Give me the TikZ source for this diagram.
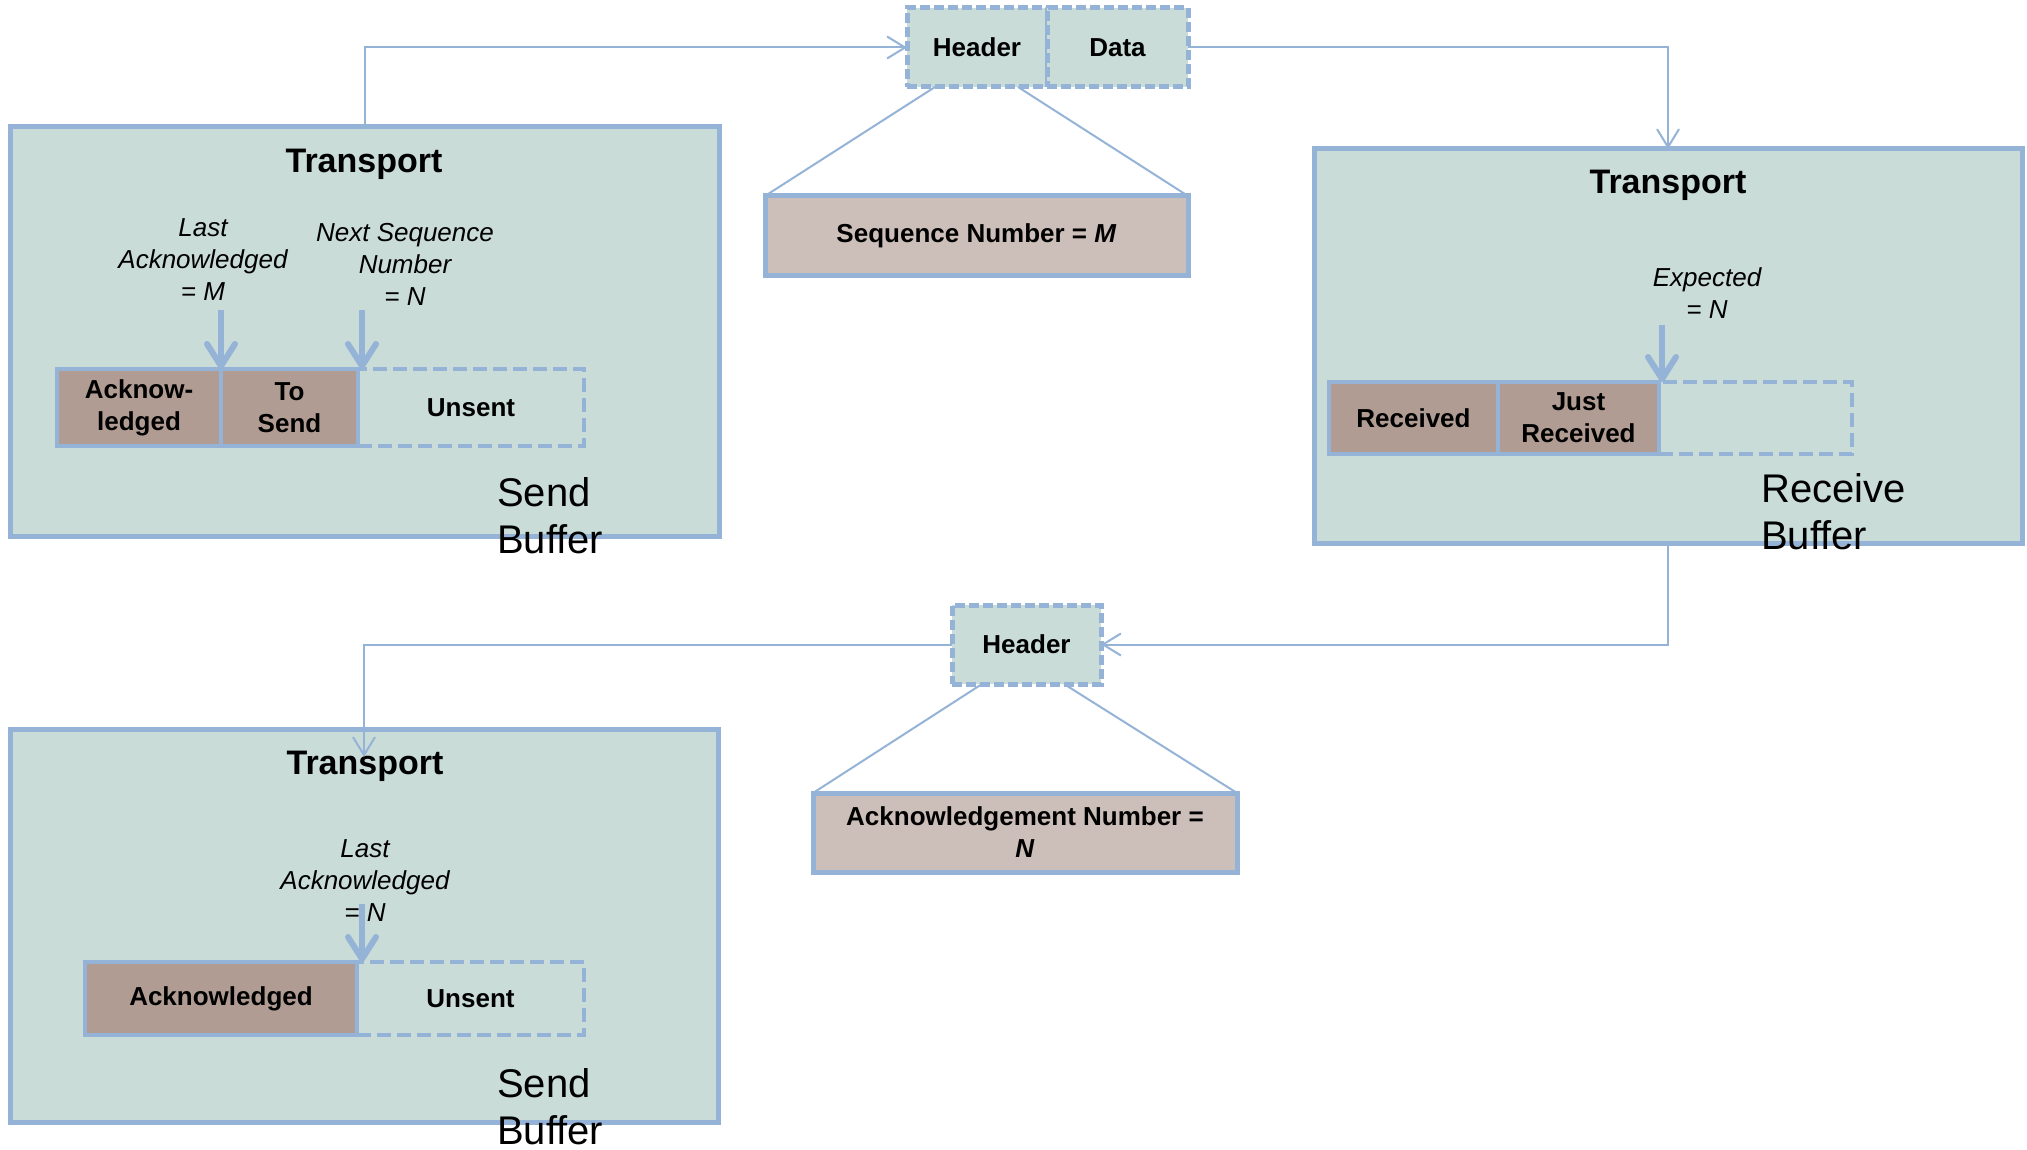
\documentclass[tikz,border=0pt]{standalone}
\usepackage{fontspec}
\setmainfont{Liberation Sans}
\usetikzlibrary{arrows.meta,calc}

\definecolor{panel}{HTML}{C9DCD7}
\definecolor{edge}{HTML}{95B3D7}
\definecolor{cellbrown}{HTML}{B09C92}
\definecolor{fieldrose}{HTML}{CCBEB9}

\newcommand\cellfont{\fontsize{26pt}{32pt}\selectfont\bfseries}
\newcommand\titlefont{\fontsize{34pt}{40pt}\selectfont\bfseries}
\newcommand\pointerfont{\fontsize{26pt}{32pt}\selectfont\itshape}
\newcommand\buffont{\fontsize{40pt}{47pt}\selectfont}

\tikzset{
  panelbox/.style={rectangle, draw=edge, fill=panel, line width=5pt, inner sep=0pt, outer sep=0pt},
  cell/.style={rectangle, draw=edge, fill=cellbrown, line width=4.5pt, inner sep=0pt, outer sep=0pt,
    align=center, font=\cellfont},
  opencell/.style={rectangle, draw=edge, fill=panel, line width=4.5pt, dash pattern=on 14pt off 6pt,
    inner sep=0pt, outer sep=0pt, align=center, font=\cellfont},
  pkt/.style={rectangle, draw=edge, fill=panel, line width=5pt, dash pattern=on 10pt off 4pt,
    inner sep=0pt, outer sep=0pt, align=center, font=\cellfont},
  field/.style={rectangle, draw=edge, fill=fieldrose, line width=5pt, inner sep=0pt, outer sep=0pt,
    align=center, font=\cellfont},
  title/.style={font=\titlefont, inner sep=0pt},
  pointer/.style={font=\pointerfont, align=center, inner sep=0pt},
  buflabel/.style={font=\buffont, align=left, anchor=west, inner sep=0pt},
  flow/.style={draw=edge, line width=2pt, -{Straight Barb[length=18pt,width=22pt]}},
  zoomline/.style={draw=edge, line width=2pt},
  marker/.style={draw=edge, line width=6pt, -{Straight Barb[length=22pt,width=28pt,round]}},
}

\begin{document}
\begin{tikzpicture}[x=1pt,y=-1pt]
\useasboundingbox (0,0) rectangle (2027,1150);

% ---------- sender (before acknowledgement) ----------
\node[panelbox, minimum width=709pt, minimum height=409pt] (t1) at (364.5,331.5) {};
\node[title] (t1title) at (364,164) {Transport};
\node[opencell, minimum width=226pt, minimum height=77pt] (unsent1) at (471,407.5) {Unsent};
\node[cell, minimum width=164pt, minimum height=77pt] (acked1) at (139,407.5) {Acknow-\\ledged};
\node[cell, minimum width=137pt, minimum height=77pt] (tosend1) at (289.5,407.5) {To\\Send};
\node[pointer] (lastack1) at (203,260) {Last\\Acknowledged\\= M};
\node[pointer] (nextseq1) at (405,264) {Next Sequence\\Number\\= N};
\coordinate (p1) at (221,310);
\coordinate (p2) at (362,310);
\draw[marker] (p1) -- (acked1.north east);
\draw[marker] (p2) -- ([xshift=4pt]tosend1.north east);
\node[buflabel] (sbuf1) at (497,516) {Send\\Buffer};

% ---------- data segment ----------
\node[pkt, minimum width=140pt, minimum height=79pt] (hdr1) at (977,47.5) {Header};
\node[pkt, minimum width=141pt, minimum height=79pt] (data1) at (1117.5,47.5) {Data};
\node[field, minimum width=423pt, minimum height=80pt] (seqno) at (976.5,236) {Sequence Number = \textit{M}};
\draw[zoomline] ($(hdr1.south)+(-42,0)$) -- (seqno.north west);
\draw[zoomline] ($(hdr1.south)+(41,0)$) -- (seqno.north east);

% ---------- receiver ----------
\node[panelbox, minimum width=708pt, minimum height=394pt] (t2) at (1668,346) {};
\node[title] (t2title) at (1668,185) {Transport};
\node[opencell, minimum width=193pt, minimum height=72pt] (free2) at (1755.5,418) {};
\node[cell, minimum width=169pt, minimum height=72pt] (recv2) at (1413.5,418) {Received};
\node[cell, minimum width=161pt, minimum height=72pt] (just2) at (1578.5,418) {Just\\Received};
\node[pointer] (expect2) at (1707,293) {Expected\\= N};
\coordinate (p3) at (1662,325);
\draw[marker] (p3) -- ([xshift=3pt]just2.north east);
\node[buflabel] (rbuf) at (1761,511.5) {Receive\\Buffer};

% ---------- acknowledgement segment ----------
\node[pkt, minimum width=149pt, minimum height=79pt] (hdr2) at (1026.5,644.5) {Header};
\node[field, minimum width=424pt, minimum height=79pt] (acknum) at (1025,832.5) {Acknowledgement Number =\\\textit{N}};
\draw[zoomline] ($(hdr2.south)+(-44.5,0)$) -- (acknum.north west);
\draw[zoomline] ($(hdr2.south)+(37.5,0)$) -- (acknum.north east);

% ---------- sender (after acknowledgement) ----------
\node[panelbox, minimum width=708pt, minimum height=393pt] (t3) at (364,925.5) {};
\node[title] (t3title) at (365,766) {Transport};
\node[opencell, minimum width=227pt, minimum height=73pt] (unsent3) at (470.5,998.5) {Unsent};
\node[cell, minimum width=272pt, minimum height=73pt] (acked3) at (221,998.5) {Acknowledged};
\node[pointer] (lastack3) at (365,881) {Last\\Acknowledged\\= N};
\coordinate (p4) at (362,904);
\draw[marker] (p4) -- ([xshift=5pt]acked3.north east);
\node[buflabel] (sbuf3) at (497,1106.5) {Send\\Buffer};

% ---------- segment flow ----------
\coordinate (t3in) at (364,757);
\draw[flow] (t1.north) |- (hdr1.west);
\draw[flow] (data1.east) -| (t2.north);
\draw[flow] (t2.south) |- (hdr2.east);
\draw[flow] (hdr2.west) -| (t3in);
\end{tikzpicture}
\end{document}
